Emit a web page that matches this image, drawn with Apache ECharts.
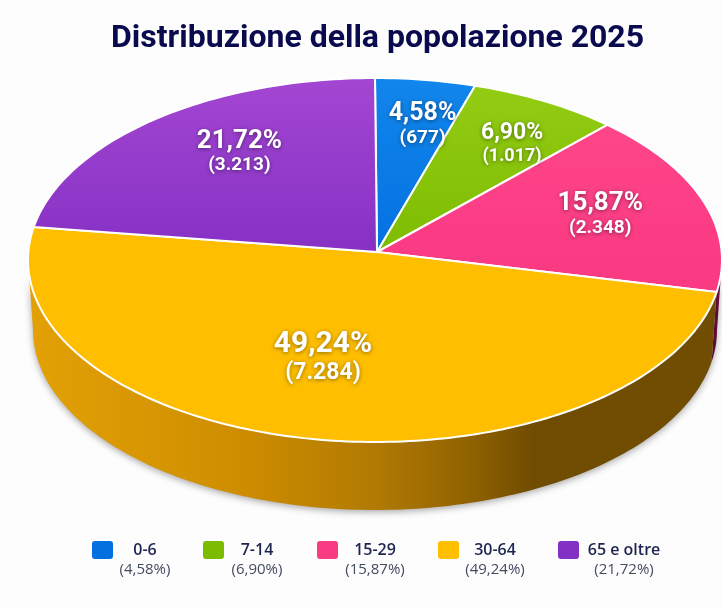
<!DOCTYPE html>
<html>
<head>
<meta charset="utf-8">
<title>Distribuzione della popolazione 2025</title>
<script src="https://cdn.jsdelivr.net/npm/echarts@6/dist/echarts.min.js"></script>
<style>
  html, body { margin: 0; padding: 0; background: #fdfdfd; }
  #chart { width: 722px; height: 608px; }
</style>
</head>
<body>
<div id="chart"></div>
<script>
var titleText = 'Distribuzione della popolazione 2025';
var categories = ['0-6', '7-14', '15-29', '30-64', '65 e oltre'];
var percents = [4.58, 6.90, 15.87, 49.24, 21.72];
var counts = [677, 1017, 2348, 7284, 3213];

// colori delle fette: faccia superiore (chiaro, scuro) e fianco
var topColors = [
    ['#1186ec', '#0470e0'],
    ['#94cc14', '#7cbc00'],
    ['#ff4a8c', '#fb3a84'],
    ['#ffbe00', '#ffbe00'],
    ['#a346d2', '#8530c4']
];
// posizione e corpo delle etichette di ogni fetta
var labelRadiusX = [0.9, 0.793, 0.68, 0.87, 0.62];
var labelRadiusY = [0.705, 0.68, 0.64, 0.59, 0.714];
var labelSize = [25, 23, 26, 30, 26];
var countSize = [19, 18, 19, 23, 19];
var legendSwatchX = [92, 203, 317, 438, 558];
var legendTextX = [145, 257, 375, 495, 624];

// geometria del disco in prospettiva
var apex = { x: 377, y: 252 };
var topRim = { x: 375, y: 260, rx: 347, ry: 182 };
var bottomRim = { x: 375, y: 330, rx: 342, ry: 180 };

function fmtPercent(v) {
    return v.toFixed(2).replace('.', ',') + '%';
}
function fmtCount(v) {
    return String(v).replace(/\B(?=(\d{3})+$)/g, '.');
}
function rimPoint(rim, a) {
    return [rim.x + rim.rx * Math.sin(a), rim.y - rim.ry * Math.cos(a)];
}
function arcPoints(rim, a0, a1) {
    var n = Math.max(2, Math.ceil((a1 - a0) / 0.02));
    var pts = [];
    for (var i = 0; i <= n; i++) {
        pts.push(rimPoint(rim, a0 + (a1 - a0) * i / n));
    }
    return pts;
}

var total = percents.reduce(function (s, v) { return s + v; }, 0);
var wallGradient = new echarts.graphic.LinearGradient(27, 0, 721, 0, [
    { offset: 0, color: '#e3a106' },
    { offset: 0.3, color: '#cf8e00' },
    { offset: 0.5, color: '#b27a03' },
    { offset: 0.64, color: '#8f6200' },
    { offset: 0.73, color: '#6f4c00' },
    { offset: 1, color: '#704d00' }
], true);
var wallColors = [null, null, '#6b0b3f', wallGradient, null];

function renderSlice(params, api) {
    var idx = params.dataIndex;
    var before = 0;
    for (var i = 0; i < idx; i++) before += percents[i];
    var a0 = before / total * Math.PI * 2;
    var a1 = (before + api.value(0)) / total * Math.PI * 2;
    var mid = (a0 + a1) / 2;
    var children = [];

    // fianco: solo la parte anteriore del disco
    var w0 = Math.max(a0, Math.PI / 2);
    var w1 = Math.min(a1, Math.PI * 1.5);
    if (w1 > w0) {
        var wall = arcPoints(topRim, w0, w1).concat(arcPoints(bottomRim, w0, w1).reverse());
        children.push({
            type: 'polygon',
            z2: 1,
            shape: { points: wall },
            style: {
                fill: wallColors[idx],
                shadowBlur: 7,
                shadowColor: 'rgba(0,0,0,0.35)',
                shadowOffsetY: 2
            }
        });
    }

    // faccia superiore
    var face = [[apex.x, apex.y]].concat(arcPoints(topRim, a0, a1));
    children.push({
        type: 'polygon',
        z2: 2,
        shape: { points: face },
        style: {
            fill: new echarts.graphic.LinearGradient(0, 78, 0, 442, [
                { offset: 0, color: topColors[idx][0] },
                { offset: 0.5, color: topColors[idx][1] },
                { offset: 1, color: topColors[idx][1] }
            ], true),
            stroke: '#ffffff',
            lineWidth: 2,
            lineJoin: 'round'
        }
    });

    var lx = apex.x + topRim.rx * labelRadiusX[idx] * Math.sin(mid);
    var ly = apex.y - topRim.ry * labelRadiusY[idx] * Math.cos(mid);
    children.push({
        type: 'text',
        z2: 5,
        x: lx,
        y: ly,
        style: {
            text: '{p|' + fmtPercent(percents[idx]) + '}\n{c|(' + fmtCount(counts[idx]) + ')}',
            align: 'center',
            verticalAlign: 'middle',
            rich: {
                p: { fontFamily: 'Roboto', fontWeight: 700, fontSize: labelSize[idx], lineHeight: labelSize[idx] + 1, fill: '#ffffff', align: 'center',
                     textShadowColor: 'rgba(0,0,0,0.45)', textShadowBlur: 4, textShadowOffsetY: 1 },
                c: { fontFamily: 'Roboto', fontWeight: 700, fontSize: countSize[idx], lineHeight: countSize[idx] + 3, fill: '#ffffff', align: 'center',
                     textShadowColor: 'rgba(0,0,0,0.45)', textShadowBlur: 4, textShadowOffsetY: 1 }
            }
        }
    });
    return { type: 'group', children: children };
}

var legendElements = [];
categories.forEach(function (name, i) {
    legendElements.push({
        type: 'rect',
        x: legendSwatchX[i],
        y: 541,
        shape: { width: 21, height: 18, r: 3 },
        style: { fill: topColors[i][1] }
    });
    legendElements.push({
        type: 'text',
        x: legendTextX[i],
        y: 550,
        style: {
            text: name,
            align: 'center',
            verticalAlign: 'middle',
            font: '600 16px "Open Sans"',
            fill: '#1d2450'
        }
    });
    legendElements.push({
        type: 'text',
        x: legendTextX[i],
        y: 570,
        style: {
            text: '(' + fmtPercent(percents[i]) + ')',
            align: 'center',
            verticalAlign: 'middle',
            font: '400 15px "Open Sans"',
            fill: '#444a60'
        }
    });
});

var chart = echarts.init(document.getElementById('chart'), null, { renderer: 'canvas' });
chart.setOption({
    backgroundColor: '#fdfdfd',
    animation: false,
    title: {
        text: titleText,
        left: 106,
        top: 18,
        textStyle: { fontFamily: 'Roboto', fontWeight: 700, fontSize: 32, color: '#0a0a4e' }
    },
    graphic: legendElements,
    series: [{
        type: 'custom',
        coordinateSystem: 'none',
        renderItem: renderSlice,
        data: percents.map(function (v) { return [v]; })
    }]
});
</script>
</body>
</html>
